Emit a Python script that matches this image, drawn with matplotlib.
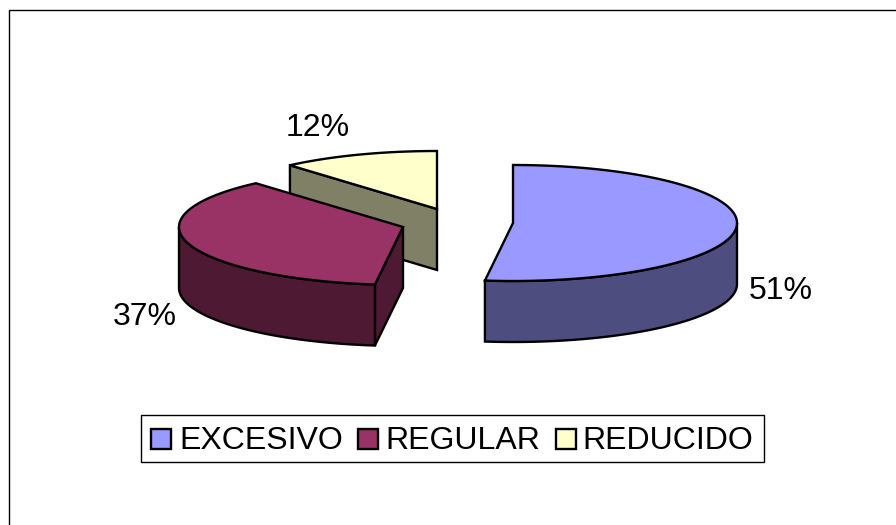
import numpy as np
import matplotlib
matplotlib.use('Agg')
import matplotlib.pyplot as plt
from matplotlib.patches import Polygon, Rectangle

# slice shares as drawn, the printed labels round differently
categories = ['EXCESIVO', 'REGULAR', 'REDUCIDO']
shares = [52.0, 36.6, 11.4]
pct_labels = ['51%', '37%', '12%']

top_colors = ['#9999FF', '#993366', '#FFFFCC']
side_colors = ['#4D4D80', '#4D1933', '#808066']

# pie geometry in pixels
apex = [(513, 223), (403, 227), (437, 209)]
rx = 224
ry = 58
depth = 61

plt.rcParams['font.family'] = ['Liberation Sans', 'DejaVu Sans']

fig = plt.figure(figsize=(8.96, 5.25), dpi=100)
ax = fig.add_axes([0, 0, 1, 1])
ax.set_xlim(0, 896)
ax.set_ylim(525, 0)
ax.axis('off')


def rim(center, a0, a1):
    t = np.radians(np.linspace(a0, a1, max(int(abs(a1 - a0)) * 2, 2)))
    return np.column_stack((center[0] + rx * np.sin(t), center[1] - ry * np.cos(t)))


def face(pts, color, z):
    ax.add_patch(Polygon(pts, closed=True, fc=color, ec='black', lw=1.7, joinstyle='miter', zorder=z))


# chart border, runs off the right and bottom of the image
ax.add_patch(Rectangle((9, 10), 1000, 1000, fc='white', ec='black', lw=1, zorder=0))

edges = np.cumsum([0] + shares) / sum(shares) * 360
# back slice first so the nearer ones cover it
for i in [2, 1, 0]:
    a0, a1 = edges[i], edges[i + 1]
    c = np.array(apex[i], dtype=float)
    z = 3 - i if i else 4
    drop = np.array([0, depth])
    if np.sin(np.radians(a0)) < -0.01:
        p = rim(c, a0, a0)[0]
        face([c, p, p + drop, c + drop], side_colors[i], z)
    lo, hi = max(a0, 90), min(a1, 270)
    if hi > lo:
        arc = rim(c, lo, hi)
        face(np.vstack((arc, (arc + drop)[::-1])), side_colors[i], z)
    face(np.vstack(([c], rim(c, a0, a1))), top_colors[i], z)

ax.text(749, 291, pct_labels[0], fontsize=23, ha='left', va='center')
ax.text(113, 317, pct_labels[1], fontsize=23, ha='left', va='center')
ax.text(286, 128, pct_labels[2], fontsize=23, ha='left', va='center')

# legend
ax.add_patch(Rectangle((141, 415), 623, 47, fc='white', ec='black', lw=1, zorder=5))
swatch_x = [151, 358, 556]
text_x = [179, 385, 582]
for i in range(3):
    ax.add_patch(Rectangle((swatch_x[i], 429), 20, 20, fc=top_colors[i], ec='black', lw=1.7, zorder=6))
    ax.text(text_x[i], 441, categories[i], fontsize=23, ha='left', va='center', zorder=6)

fig.savefig('out.png', dpi=100)
